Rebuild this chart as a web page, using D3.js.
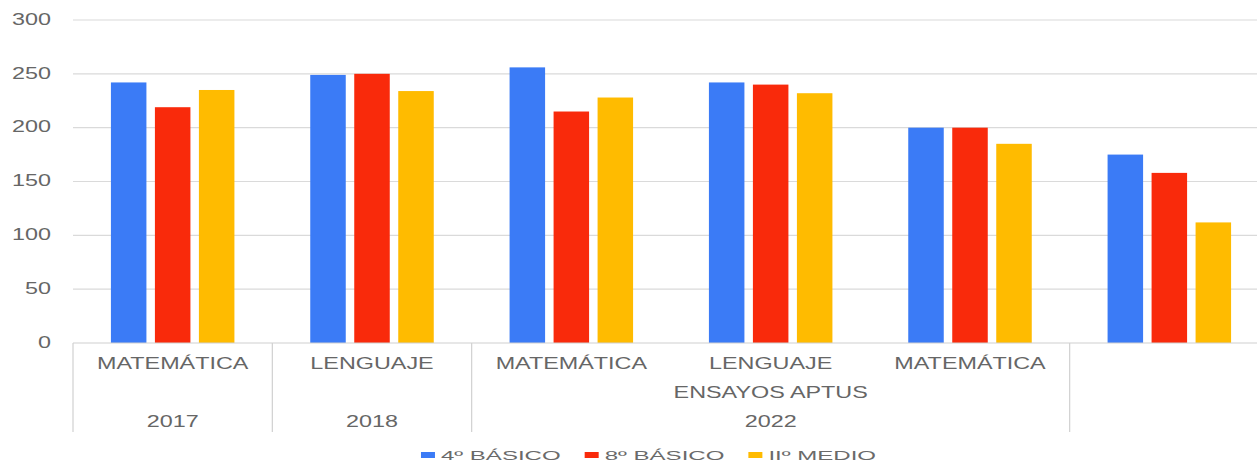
<!DOCTYPE html>
<html>
<head>
<meta charset="utf-8">
<script src="https://cdn.jsdelivr.net/npm/d3@7"></script>
<style>
  html, body { margin: 0; padding: 0; background: #fff; overflow: hidden; }
  svg { display: block; font-family: "Liberation Sans", Arial, sans-serif; }
</style>
</head>
<body>
<svg id="chart" width="1257" height="466"></svg>
<script>
// ---- Data ----
const subjects = ["MATEMÁTICA", "LENGUAJE", "MATEMÁTICA", "LENGUAJE", "MATEMÁTICA", ""];
const seriesNames = ["4º BÁSICO", "8º BÁSICO", "IIº MEDIO"];
const basico4 = [242, 249, 256, 242, 200, 175];
const basico8 = [219, 250, 215, 240, 200, 158];
const medio2 = [235, 234, 228, 232, 185, 112];
const row2Labels = [{ text: "", from: 0, to: 0 }, { text: "", from: 1, to: 1 }, { text: "ENSAYOS APTUS", from: 2, to: 4 }];
const row3Labels = [{ text: "2017", from: 0, to: 0 }, { text: "2018", from: 1, to: 1 }, { text: "2022", from: 2, to: 4 }];
const yTicks = [0, 50, 100, 150, 200, 250, 300];
const colors = ["#3b7bf6", "#f92a0b", "#ffbb00"];

const series = [basico4, basico8, medio2];
const groups = subjects.map((s, i) => i);

// ---- Layout ----
const svg = d3.select("#chart");
const plotLeft = 73, plotRight = 1269, plotTop = 20, plotBottom = 343;
const sx = 1.46; // horizontal stretch of the original image text

const x0 = d3.scaleBand().domain(groups).range([plotLeft, plotRight]).paddingInner(0).paddingOuter(0);
const innerW = 123.5;
const x1 = d3.scaleBand().domain([0, 1, 2])
  .range([(x0.bandwidth() - innerW) / 2, (x0.bandwidth() + innerW) / 2])
  .paddingInner(0.193).paddingOuter(0);
const y = d3.scaleLinear().domain([0, 300]).range([plotBottom, plotTop]);

// gridlines
svg.append("g").selectAll("line").data(yTicks.filter(d => d > 0)).join("line")
  .attr("x1", plotLeft).attr("x2", 1257)
  .attr("y1", d => y(d)).attr("y2", d => y(d))
  .attr("stroke", "#dadada").attr("stroke-width", 1.2);

// y tick labels
svg.append("g").selectAll("text").data(yTicks).join("text")
  .attr("transform", d => `translate(51,${y(d)}) scale(${sx},1)`)
  .attr("text-anchor", "end").attr("dy", "0.3em")
  .attr("font-size", 16).attr("fill", "#666")
  .text(d => d);

// bars
const gBars = svg.append("g");
groups.forEach(gi => {
  gBars.append("g").attr("transform", `translate(${x0(gi)},0)`)
    .selectAll("rect").data(series.map((s, si) => ({ si, v: s[gi] }))).join("rect")
    .attr("x", d => x1(d.si)).attr("width", x1.bandwidth())
    .attr("y", d => y(d.v)).attr("height", d => y(0) - y(d.v))
    .attr("fill", d => colors[d.si]);
});

// baseline
svg.append("line").attr("x1", plotLeft).attr("x2", 1257)
  .attr("y1", y(0)).attr("y2", y(0)).attr("stroke", "#d0d0d0").attr("stroke-width", 1.2);

// separators between top-level spans
const sepIdx = [0, 1, 2, 5];
const sepBottom = 432;
svg.append("g").selectAll("line").data(sepIdx).join("line")
  .attr("x1", d => x0(d)).attr("x2", d => x0(d))
  .attr("y1", y(0)).attr("y2", sepBottom)
  .attr("stroke", "#d0d0d0").attr("stroke-width", 1.2);

function labelText(g, cx, cy, txt) {
  g.append("text").attr("transform", `translate(${cx},${cy}) scale(${sx},1)`)
    .attr("text-anchor", "middle").attr("dy", "0.35em")
    .attr("font-size", 16).attr("fill", "#666").text(txt);
}
const gLab = svg.append("g");
subjects.forEach((s, i) => labelText(gLab, x0(i) + x0.bandwidth() / 2, 363, s));
row2Labels.forEach(r => labelText(gLab, (x0(r.from) + x0(r.to) + x0.bandwidth()) / 2, 392, r.text));
row3Labels.forEach(r => labelText(gLab, (x0(r.from) + x0(r.to) + x0.bandwidth()) / 2, 421, r.text));

// legend
const lsx = 1.85;
const gap = 24;
const legend = svg.append("g");
let cursor = 0;
seriesNames.forEach((name, i) => {
  const g = legend.append("g");
  g.append("rect").attr("x", 0).attr("y", -3).attr("width", 14).attr("height", 6).attr("fill", colors[i]);
  const t = g.append("text").attr("transform", `translate(20,0) scale(${lsx},1)`)
    .attr("dy", "0.35em").attr("font-size", 13).attr("fill", "#6a6a6a").text(name);
  const w = 20 + t.node().getComputedTextLength() * lsx;
  g.attr("transform", `translate(${cursor},0)`);
  cursor += w + gap;
});
const totalW = cursor - gap;
legend.attr("transform", `translate(${648.5 - totalW / 2},455)`);
</script>
</body>
</html>
